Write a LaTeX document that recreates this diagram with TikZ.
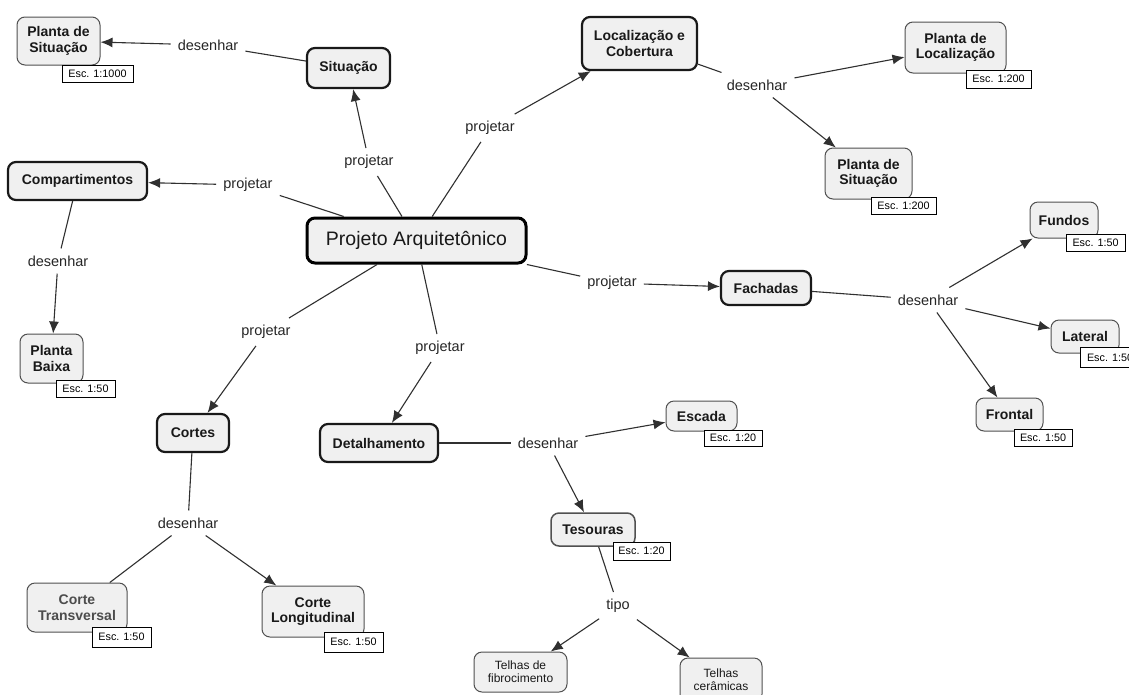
\documentclass[tikz,border=0pt]{standalone}
\usepackage{fontspec}
\setmainfont{Liberation Sans}
\usetikzlibrary{arrows.meta}
\definecolor{boxfill}{HTML}{F0F0F0}
\definecolor{thinedge}{HTML}{505050}
\definecolor{wire}{HTML}{303030}
\tikzset{
  concept/.style={draw=thinedge, line width=1pt, fill=boxfill, rounded corners=8pt,
    align=center, inner sep=2pt, text=black!90,
    font=\fontsize{14}{15.5}\selectfont\bfseries},
  strong/.style={concept, draw=black!90, line width=2.2pt},
  mainbox/.style={concept, draw=black, line width=3pt,
    font=\fontsize{19.5}{21}\selectfont},
  plainbox/.style={concept, font=\fontsize{12}{13}\selectfont},
  scale tag/.style={draw=black, line width=0.8pt, fill=white, inner sep=2.5pt,
    font=\fontsize{10.8}{12}\selectfont},
  linkword/.style={inner sep=7pt, font=\fontsize{14.5}{16}\selectfont, text=black!85},
  wirestyle/.style={draw=wire, line width=1.1pt},
  arr/.style={wirestyle, -{Latex[length=12pt,width=10pt]}},
}
\begin{document}
\begin{tikzpicture}[x=1pt,y=-1pt]
\useasboundingbox (0,0) rectangle (1129,694);
\clip (0,0) rectangle (1129,694);
\fill[white] (0,0) rectangle (1129,694);

% concepts
\node[concept, minimum width=83pt, minimum height=48pt] (ps1) at (58.5,41) {Planta de\\Situação};
\node[strong, minimum width=83pt, minimum height=40pt] (sit) at (348.5,68) {Situação};
\node[strong, minimum width=115pt, minimum height=53pt] (lc) at (639.5,43.5) {Localização e\\Cobertura};
\node[concept, minimum width=101pt, minimum height=51pt] (pl) at (955.5,47.5) {Planta de\\Localização};
\node[concept, minimum width=87pt, minimum height=51pt] (ps2) at (868.5,173.5) {Planta de\\Situação};
\node[strong, minimum width=139pt, minimum height=38pt] (comp) at (77.5,181) {Compartimentos};
\node[concept, minimum width=63pt, minimum height=49pt] (pb) at (51.5,358.5) {Planta\\Baixa};
\node[mainbox, minimum width=219pt, minimum height=45pt] (pa) at (416.5,240.5) {Projeto Arquitetônico};
\node[strong, minimum width=72pt, minimum height=38pt] (cortes) at (193,433) {Cortes};
\node[concept, text=black!70, minimum width=100pt, minimum height=49pt] (ct) at (77,607.5) {Corte\\Transversal};
\node[concept, minimum width=102pt, minimum height=51pt] (cl) at (313,611.5) {Corte\\Longitudinal};
\node[strong, minimum width=118pt, minimum height=38pt] (det) at (379,443) {Detalhamento};
\node[concept, minimum width=71pt, minimum height=30pt] (esca) at (701.5,416) {Escada};
\node[concept, line width=1.5pt, minimum width=84pt, minimum height=33pt] (tes) at (593,529.5) {Tesouras};
\node[plainbox, minimum width=93pt, minimum height=40pt] (tf) at (520.5,672) {Telhas de\\fibrocimento};
\node[plainbox, minimum width=82pt, minimum height=44pt] (tc) at (721,680) {Telhas\\cerâmicas};
\node[strong, minimum width=90pt, minimum height=34pt] (fach) at (766,288) {Fachadas};
\node[concept, minimum width=68pt, minimum height=36pt] (fun) at (1064,220) {Fundos};
\node[concept, minimum width=68pt, minimum height=33pt] (lat) at (1085,336.5) {Lateral};
\node[concept, minimum width=67pt, minimum height=33pt] (fro) at (1009.5,414.5) {Frontal};

% scale tags
\node[scale tag, minimum width=71pt, minimum height=17pt] (e1) at (97.5,73.5) {Esc. 1:1000};
\node[scale tag, minimum width=65pt, minimum height=18pt] (e2) at (998.5,79) {Esc. 1:200};
\node[scale tag, minimum width=65pt, minimum height=17pt] (e3) at (903.5,205.5) {Esc. 1:200};
\node[scale tag, minimum width=59pt, minimum height=17pt] (e4) at (85.5,388.5) {Esc. 1:50};
\node[scale tag, minimum width=59pt, minimum height=20pt] (e5) at (121.5,637) {Esc. 1:50};
\node[scale tag, minimum width=59pt, minimum height=20pt] (e6) at (353.5,642) {Esc. 1:50};
\node[scale tag, minimum width=58pt, minimum height=16pt] (e7) at (733,438) {Esc. 1:20};
\node[scale tag, minimum width=57pt, minimum height=18pt] (e8) at (641.5,551) {Esc. 1:20};
\node[scale tag, minimum width=59pt, minimum height=17pt] (e9) at (1095.5,242.5) {Esc. 1:50};
\node[scale tag, minimum width=59pt, minimum height=20pt] (e10) at (1110,357.5) {Esc. 1:50};
\node[scale tag, minimum width=58pt, minimum height=17pt] (e11) at (1043,437.5) {Esc. 1:50};

% linking words
\node[linkword] (d1) at (208,45) {desenhar};
\node[linkword] (p1) at (369,162) {projetar};
\node[linkword] (p2) at (490,128) {projetar};
\node[linkword] (d2) at (757,85) {desenhar};
\node[linkword] (p3) at (248,185) {projetar};
\node[linkword] (d3) at (58,261) {desenhar};
\node[linkword] (p4) at (266,332) {projetar};
\node[linkword] (d4) at (188,523) {desenhar};
\node[linkword] (p5) at (440,348) {projetar};
\node[linkword] (d5) at (548,443) {desenhar};
\node[linkword] (t1) at (618,606) {tipo};
\node[linkword] (p6) at (612,283) {projetar};
\node[linkword] (d6) at (928,300) {desenhar};

% connectors
\draw[wirestyle] (sit) -- (d1);
\draw[arr] (d1) -- (ps1);
\draw[wirestyle] (pa) -- (p1);
\draw[arr] (p1) -- (sit);
\draw[wirestyle] (pa) -- (p2);
\draw[arr] (p2) -- (lc);
\draw[wirestyle] (lc) -- (d2);
\draw[arr] (d2) -- (pl);
\draw[arr] (d2) -- (ps2);
\draw[wirestyle] (pa) -- (p3);
\draw[arr] (p3) -- (comp);
\draw[wirestyle] (comp) -- (d3);
\draw[arr] (d3) -- (pb);
\draw[wirestyle] (pa) -- (p4);
\draw[arr] (p4) -- (cortes);
\draw[wirestyle] (cortes) -- (d4);
\draw[wirestyle] (d4) -- (ct);
\draw[arr] (d4) -- (cl);
\draw[wirestyle] (pa) -- (p5);
\draw[arr] (p5) -- (det);
\draw[wirestyle] (det) -- (d5);
\draw[arr] (d5) -- (esca);
\draw[arr] (d5) -- (tes);
\draw[wirestyle] (tes) -- (t1);
\draw[arr] (t1) -- (tf);
\draw[arr] (t1) -- (tc);
\draw[wirestyle] (pa) -- (p6);
\draw[arr] (p6) -- (fach);
\draw[wirestyle] (fach) -- (d6);
\draw[arr] (d6) -- (fun);
\draw[arr] (d6) -- (lat);
\draw[arr] (d6) -- (fro);
\end{tikzpicture}
\end{document}
